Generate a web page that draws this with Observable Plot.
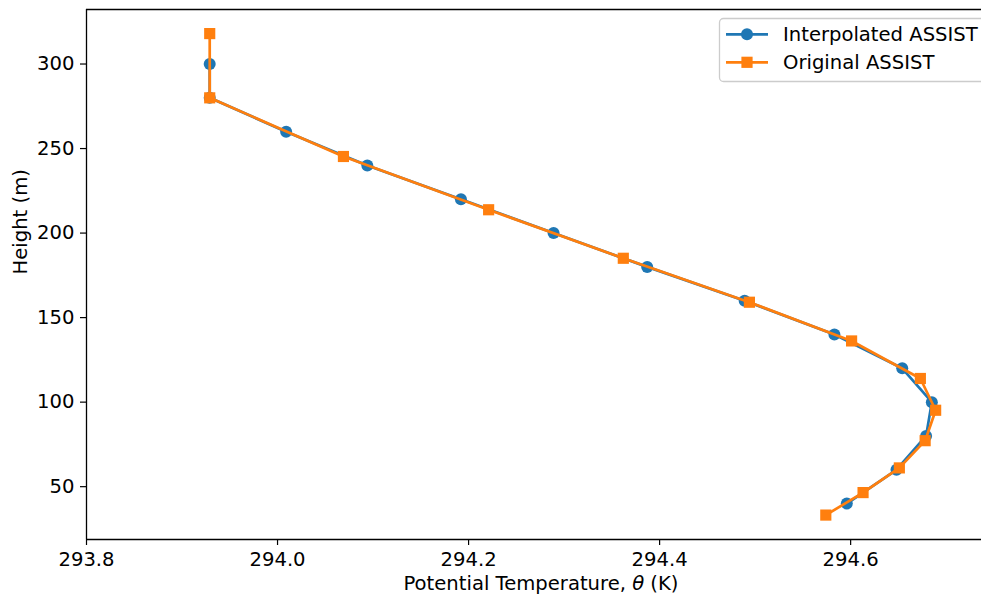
<!DOCTYPE html>
<html><head><meta charset="utf-8">
<script src="https://cdn.jsdelivr.net/npm/d3@7"></script>
<script src="https://cdn.jsdelivr.net/npm/@observablehq/plot@0.6"></script>
<style>
body{margin:0;background:#fff;font-family:"DejaVu Sans",sans-serif;}
#wrap{position:relative;width:981px;height:598px;overflow:hidden;}
</style></head><body><div id="wrap"></div>
<script>
// Interpolated ASSIST
const interpHeight = [300, 280, 260, 240, 220, 200, 180, 160, 140, 120, 100, 80, 60, 40];
const interpTheta  = [293.929, 293.929, 294.009, 294.094, 294.192, 294.289, 294.387, 294.489, 294.583, 294.654, 294.685, 294.679, 294.648, 294.596];
// Original ASSIST
const origHeight = [318, 280, 245.3, 213.8, 185.1, 159.1, 136.2, 114.0, 95.2, 77.2, 61.1, 46.5, 33.2];
const origTheta  = [293.929, 293.929, 294.069, 294.221, 294.362, 294.494, 294.601, 294.673, 294.689, 294.678, 294.651, 294.613, 294.574];

const seriesNames = ["Interpolated ASSIST", "Original ASSIST"];
const seriesColors = ["#1f77b4", "#ff7f0e"];
const xTicks = [293.8, 294.0, 294.2, 294.4, 294.6];
const yTicks = [50, 100, 150, 200, 250, 300];
const xLabel = "Potential Temperature, θ (K)";
const yLabel = "Height (m)";

const xDomain = [293.8, 294.737];
const yDomain = [18.75, 332.25];
const FS = 19.6;

const interp = interpHeight.map((h, i) => ({h, theta: interpTheta[i]}));
const orig = origHeight.map((h, i) => ({h, theta: origTheta[i]}));

const chart = Plot.plot({
  width: 981, height: 598,
  marginLeft: 86, marginRight: 0, marginTop: 9, marginBottom: 59,
  style: {fontFamily: "'DejaVu Sans', sans-serif", color: "#000", background: "#fff", overflow: "visible"},
  x: {domain: xDomain},
  y: {domain: yDomain},
  marks: [
    Plot.axisX({ticks: xTicks, tickFormat: d3.format(".1f"), label: null, tickSize: 6, tickPadding: 7, fontSize: FS, stroke: "#000", strokeWidth: 1.2}),
    Plot.axisY({ticks: yTicks, label: null, tickSize: 6, tickPadding: 6, fontSize: FS, stroke: "#000", strokeWidth: 1.2}),
    Plot.line(interp, {x: "theta", y: "h", stroke: seriesColors[0], strokeWidth: 2.7}),
    Plot.dot(interp, {x: "theta", y: "h", r: 6, fill: seriesColors[0], stroke: "none"}),
    Plot.line(orig, {x: "theta", y: "h", stroke: seriesColors[1], strokeWidth: 2.7}),
    Plot.dot(orig, {x: "theta", y: "h", symbol: "square", r: 6.3, fill: seriesColors[1], stroke: "none"}),
    Plot.ruleX([xDomain[0]], {stroke: "#000", strokeWidth: 1.3}),
    Plot.ruleY(yDomain, {stroke: "#000", strokeWidth: 1.3}),
    Plot.text([xLabel], {frameAnchor: "bottom", dy: 50, dx: 7, fontSize: FS, fill: "#000"}),
    Plot.text([yLabel], {frameAnchor: "left", dx: -66, rotate: -90, fontSize: FS, fill: "#000"})
  ]
});

// italic theta in the x label
d3.select(chart).selectAll("text").filter(function(){ return this.textContent === xLabel; }).each(function(){
  const t = d3.select(this);
  const parts = xLabel.split("θ");
  t.text(null);
  t.append("tspan").text(parts[0]);
  t.append("tspan").attr("font-style", "italic").text("θ");
  t.append("tspan").text(parts[1]);
});

// legend
const svg = d3.select(chart);
const lg = svg.append("g").attr("font-family", "'DejaVu Sans', sans-serif").attr("font-size", FS).attr("text-anchor", "start");
lg.append("rect").attr("x", 719.5).attr("y", 18.5).attr("width", 290).attr("height", 63).attr("rx", 4)
  .attr("fill", "white").attr("fill-opacity", 0.8).attr("stroke", "#cccccc").attr("stroke-width", 1.3);
const rowsY = [34.3, 62.3];
seriesNames.forEach((name, i) => {
  const y = rowsY[i];
  lg.append("line").attr("x1", 726).attr("x2", 768).attr("y1", y).attr("y2", y)
    .attr("stroke", seriesColors[i]).attr("stroke-width", 2.7);
  if (i === 0) {
    lg.append("circle").attr("cx", 747).attr("cy", y).attr("r", 6).attr("fill", seriesColors[i]);
  } else {
    lg.append("rect").attr("x", 747 - 5.6).attr("y", y - 5.6).attr("width", 11.2).attr("height", 11.2).attr("fill", seriesColors[i]);
  }
  lg.append("text").attr("x", 783).attr("y", y + 7).attr("fill", "#000").text(name);
});

document.getElementById("wrap").appendChild(chart);
</script></body></html>
